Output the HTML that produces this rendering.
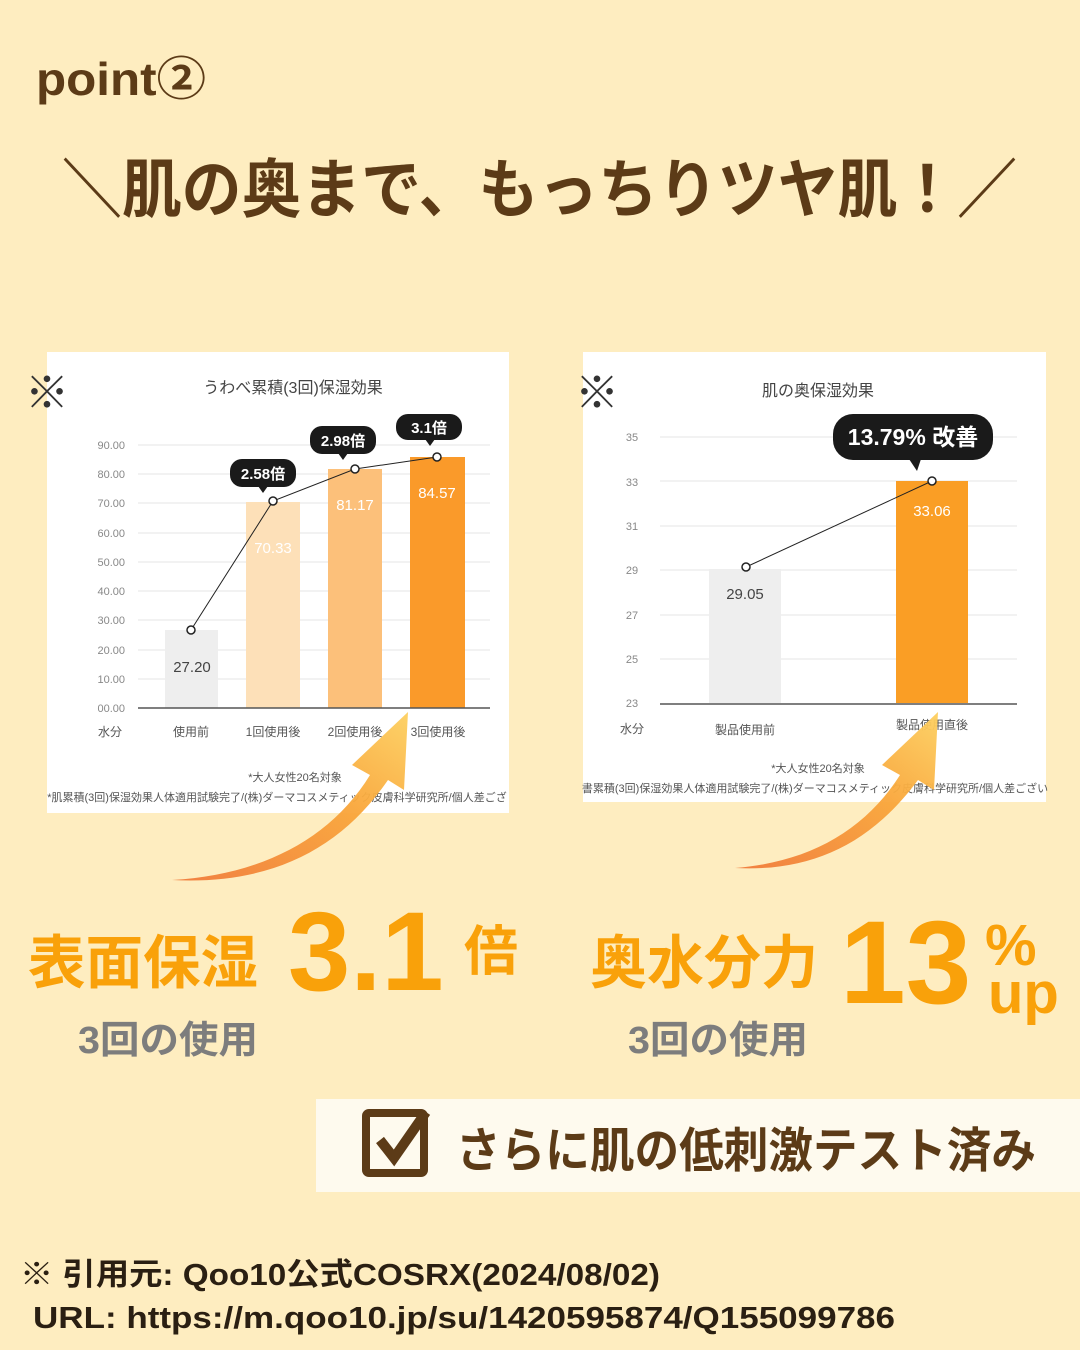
<!DOCTYPE html>
<html><head><meta charset="utf-8"><style>
html,body{margin:0;padding:0;background:#feedc0;}
svg{display:block;font-family:"Liberation Sans","Noto Sans CJK JP",sans-serif;}
</style></head><body>
<svg width="1080" height="1350" viewBox="0 0 1080 1350" xmlns="http://www.w3.org/2000/svg">
<defs>
<linearGradient id="ag" x1="0" y1="1" x2="1" y2="0">
<stop offset="0" stop-color="#f07a3a"/><stop offset="0.6" stop-color="#f9a63a"/><stop offset="1" stop-color="#fdd060"/>
</linearGradient>
</defs>
<rect width="1080" height="1350" fill="#feedc0"/>
<text x="36" y="95" font-size="46" font-weight="bold" fill="#5c3b17" textLength="170" lengthAdjust="spacingAndGlyphs">point②</text>
<text x="62" y="212" font-size="64" font-weight="bold" fill="#5c3b17" textLength="955" lengthAdjust="spacingAndGlyphs">＼肌の奥まで、もっちりツヤ肌！／</text>

<!-- left chart -->
<rect x="47" y="352" width="462" height="461" fill="#fff"/>
<text x="293" y="393" font-size="16" fill="#444" text-anchor="middle">うわべ累積(3回)保湿効果</text>
<g stroke="#e6e6e6" stroke-width="1">
<line x1="138" y1="445" x2="490" y2="445"/><line x1="138" y1="474" x2="490" y2="474"/><line x1="138" y1="503" x2="490" y2="503"/><line x1="138" y1="533" x2="490" y2="533"/><line x1="138" y1="562" x2="490" y2="562"/><line x1="138" y1="591" x2="490" y2="591"/><line x1="138" y1="620" x2="490" y2="620"/><line x1="138" y1="650" x2="490" y2="650"/><line x1="138" y1="679" x2="490" y2="679"/>
</g>
<g font-size="11" fill="#888" text-anchor="end">
<text x="125" y="449">90.00</text><text x="125" y="478">80.00</text><text x="125" y="507">70.00</text><text x="125" y="537">60.00</text><text x="125" y="566">50.00</text><text x="125" y="595">40.00</text><text x="125" y="624">30.00</text><text x="125" y="654">20.00</text><text x="125" y="683">10.00</text><text x="125" y="712">00.00</text>
</g>
<rect x="165" y="630" width="53" height="78" fill="#eeeeee"/>
<rect x="246" y="502" width="54" height="206" fill="#fde0b8"/>
<rect x="328" y="469" width="54" height="239" fill="#fcc07a"/>
<rect x="410" y="457" width="55" height="251" fill="#fa9a2a"/>
<line x1="138" y1="708" x2="490" y2="708" stroke="#555" stroke-width="1.5"/>
<text x="192" y="672" font-size="15" fill="#444" text-anchor="middle">27.20</text>
<text x="273" y="553" font-size="15" fill="#fff" text-anchor="middle">70.33</text>
<text x="355" y="510" font-size="15" fill="#fff" text-anchor="middle">81.17</text>
<text x="437" y="498" font-size="15" fill="#fff" text-anchor="middle">84.57</text>
<polyline points="191,630 273,501 355,469 437,457" fill="none" stroke="#222" stroke-width="1"/>
<g fill="#fff" stroke="#222" stroke-width="1.5">
<circle cx="191" cy="630" r="4"/><circle cx="273" cy="501" r="4"/><circle cx="355" cy="469" r="4"/><circle cx="437" cy="457" r="4"/>
</g>
<g fill="#1a1a1a">
<rect x="230" y="459" width="66" height="28" rx="12"/><path d="M258 486 l5 7 l5 -7z"/>
<rect x="310" y="426" width="66" height="28" rx="12"/><path d="M338 453 l5 7 l5 -7z"/>
<rect x="396" y="414" width="66" height="26" rx="12"/><path d="M425 439 l5 7 l5 -7z"/>
</g>
<g font-size="15" font-weight="bold" fill="#fff" text-anchor="middle">
<text x="263" y="479">2.58倍</text><text x="343" y="446">2.98倍</text><text x="429" y="433">3.1倍</text>
</g>
<g font-size="12" fill="#555" text-anchor="middle">
<text x="110" y="736">水分</text><text x="191" y="736">使用前</text><text x="273" y="736">1回使用後</text><text x="355" y="736">2回使用後</text><text x="438" y="736">3回使用後</text>
<text x="295" y="781" font-size="11">*大人女性20名対象</text>
<text x="277" y="801" font-size="11">*肌累積(3回)保湿効果人体適用試験完了/(株)ダーマコスメティック皮膚科学研究所/個人差ござ</text>
</g>
<text x="47" y="408" font-size="44" fill="#333" text-anchor="middle">※</text>

<!-- right chart -->
<rect x="583" y="352" width="463" height="450" fill="#fff"/>
<text x="818" y="396" font-size="16" fill="#444" text-anchor="middle">肌の奥保湿効果</text>
<g stroke="#e6e6e6" stroke-width="1">
<line x1="660" y1="437" x2="1017" y2="437"/><line x1="660" y1="481" x2="1017" y2="481"/><line x1="660" y1="526" x2="1017" y2="526"/><line x1="660" y1="570" x2="1017" y2="570"/><line x1="660" y1="615" x2="1017" y2="615"/><line x1="660" y1="659" x2="1017" y2="659"/>
</g>
<g font-size="11" fill="#888" text-anchor="middle">
<text x="632" y="441">35</text><text x="632" y="486">33</text><text x="632" y="530">31</text><text x="632" y="574">29</text><text x="632" y="619">27</text><text x="632" y="663">25</text><text x="632" y="707">23</text>
</g>
<rect x="709" y="569" width="72" height="134" fill="#eeeeee"/>
<rect x="896" y="481" width="72" height="222" fill="#fa9e25"/>
<line x1="660" y1="704" x2="1017" y2="704" stroke="#555" stroke-width="1.5"/>
<text x="745" y="599" font-size="15" fill="#444" text-anchor="middle">29.05</text>
<text x="932" y="516" font-size="15" fill="#fff" text-anchor="middle">33.06</text>
<line x1="746" y1="567" x2="932" y2="481" stroke="#222" stroke-width="1"/>
<g fill="#fff" stroke="#222" stroke-width="1.5"><circle cx="746" cy="567" r="4"/><circle cx="932" cy="481" r="4"/></g>
<rect x="833" y="414" width="160" height="46" rx="20" fill="#1a1a1a"/><path d="M909 459 l8 12 l4 -12z" fill="#1a1a1a"/>
<text x="913" y="445" font-size="23" font-weight="bold" fill="#fff" text-anchor="middle">13.79% 改善</text>
<g font-size="12" fill="#555" text-anchor="middle">
<text x="632" y="733">水分</text><text x="745" y="734">製品使用前</text><text x="932" y="729">製品使用直後</text>
<text x="818" y="772" font-size="11">*大人女性20名対象</text>
<text x="815" y="792" font-size="11">書累積(3回)保湿効果人体適用試験完了/(株)ダーマコスメティック皮膚科学研究所/個人差ござい</text>
</g>
<text x="597" y="408" font-size="44" fill="#333" text-anchor="middle">※</text>

<!-- arrows -->
<path d="M172 880 C260 875 330 840 370 775 L352 765 L408 712 L404 790 L388 780 C340 850 270 885 172 880Z" fill="url(#ag)" opacity="0.95"/>
<path d="M735 868 C810 862 865 830 900 775 L882 765 L938 712 L934 790 L918 780 C870 845 810 872 735 868Z" fill="url(#ag)" opacity="0.95"/>

<!-- big stats -->
<text x="28" y="983" font-size="58" font-weight="bold" fill="#f9a10a" textLength="230" lengthAdjust="spacingAndGlyphs">表面保湿</text>
<text x="288" y="990" font-size="112" font-weight="bold" fill="#f9a10a">3.1</text>
<text x="464" y="970" font-size="54" font-weight="bold" fill="#f9a10a">倍</text>
<text x="590" y="983" font-size="58" font-weight="bold" fill="#f9a10a" textLength="228" lengthAdjust="spacingAndGlyphs">奥水分力</text>
<text x="840" y="1003" font-size="118" font-weight="bold" fill="#f9a10a">13</text>
<text x="985" y="965" font-size="58" font-weight="bold" fill="#f9a10a">%</text>
<text x="988" y="1013" font-size="58" font-weight="bold" fill="#f9a10a">up</text>
<text x="78" y="1053" font-size="38" font-weight="bold" fill="#7d7d7d" textLength="180" lengthAdjust="spacingAndGlyphs">3回の使用</text>
<text x="628" y="1053" font-size="38" font-weight="bold" fill="#7d7d7d" textLength="180" lengthAdjust="spacingAndGlyphs">3回の使用</text>

<!-- box -->
<rect x="316" y="1099" width="764" height="93" fill="#fefaee"/>
<rect x="366" y="1113" width="58" height="60" fill="none" stroke="#5c3b17" stroke-width="8" rx="3"/>
<path d="M380 1140 l14 18 l32 -46" fill="none" stroke="#5c3b17" stroke-width="10"/>
<text x="456" y="1167" font-size="48" font-weight="bold" fill="#5c3b17" textLength="580" lengthAdjust="spacingAndGlyphs">さらに肌の低刺激テスト済み</text>

<text x="20" y="1285" font-size="31" font-weight="bold" fill="#2a1f12" textLength="640" lengthAdjust="spacingAndGlyphs">※ 引用元: Qoo10公式COSRX(2024/08/02)</text>
<text x="33" y="1328" font-size="31" font-weight="bold" fill="#2a1f12" textLength="862" lengthAdjust="spacingAndGlyphs">URL: https://m.qoo10.jp/su/1420595874/Q155099786</text>
</svg>
</body></html>
